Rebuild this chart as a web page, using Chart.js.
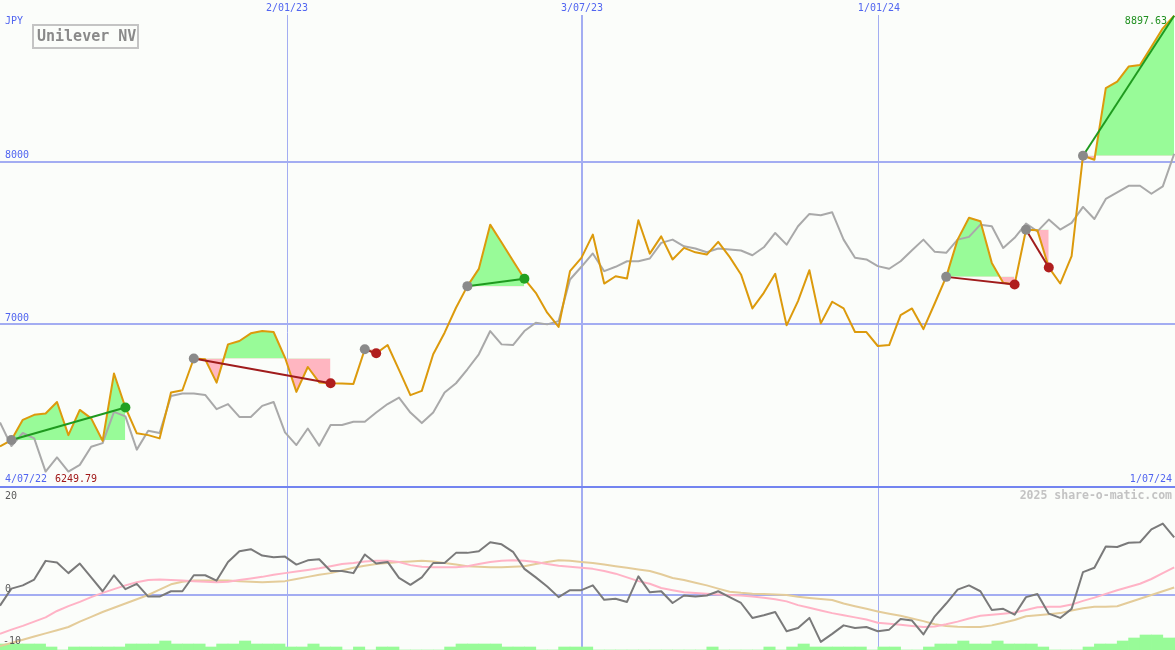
<!DOCTYPE html>
<html>
<head>
<meta charset="utf-8">
<title>Unilever NV</title>
<script src="https://cdn.jsdelivr.net/npm/chart.js@4.4.1/dist/chart.umd.min.js"></script>
<style>
  html, body { margin: 0; padding: 0; background: #fbfdfa; }
  #wrap { position: relative; width: 1175px; height: 650px; }
</style>
</head>
<body>
<div id="wrap"><canvas id="myChart"></canvas></div>
<script>
// weekly closes, 4/07/22 .. 1/07/24
var closes = [
  6249.79, 6289, 6413, 6444, 6452, 6523, 6319, 6474, 6422, 6284,
  6698, 6489, 6330, 6319, 6299, 6581, 6595, 6790, 6785, 6642,
  6877, 6898, 6945, 6959, 6953, 6796, 6585, 6738, 6643, 6638,
  6636, 6634, 6847, 6822, 6873, 6720, 6565, 6591, 6816, 6949,
  7102, 7235, 7341, 7613, 7503, 7391, 7280, 7194, 7072, 6984,
  7327, 7409, 7552, 7251, 7296, 7282, 7640, 7435, 7541, 7399,
  7470, 7443, 7429, 7507, 7415, 7307, 7098, 7194, 7311, 6994,
  7143, 7333, 7006, 7139, 7098, 6953, 6953, 6867, 6873, 7057,
  7098, 6971, 7130, 7292, 7521, 7655, 7634, 7378, 7256, 7245,
  7582, 7578, 7350, 7251, 7419, 8037, 8012, 8452, 8493, 8585,
  8595, 8707, 8820, 8897.63
];
// grey comparison line
var sector = [
  6397, 6252, 6332, 6299, 6095, 6182, 6095, 6136, 6248, 6270,
  6462, 6434, 6230, 6346, 6332, 6560, 6575, 6575, 6566, 6479,
  6510, 6431, 6431, 6499, 6523, 6336, 6258, 6360, 6254, 6381,
  6381, 6401, 6401, 6458, 6510, 6550, 6458, 6393, 6458, 6581,
  6638, 6724, 6816, 6959, 6877, 6873, 6959, 7010, 7000, 7020,
  7276, 7354, 7436, 7327, 7354, 7388, 7388, 7405, 7501, 7521,
  7480, 7466, 7443, 7466, 7460, 7454, 7425, 7474, 7562, 7490,
  7603, 7679, 7671, 7689, 7521, 7409, 7399, 7358, 7342, 7388,
  7456, 7521, 7446, 7440, 7521, 7538, 7613, 7603, 7470, 7532,
  7620, 7572, 7644, 7583, 7624, 7722, 7648, 7771, 7811, 7852,
  7852, 7803, 7848, 8049
];
// lower panel
var osc = [
  -2.0, 1.2, 1.8, 2.9, 6.4, 6.1, 4.1, 5.9, 3.3, 0.7,
  3.7, 1.1, 2.1, -0.3, -0.3, 0.7, 0.7, 3.7, 3.7, 2.7,
  6.2, 8.2, 8.6, 7.4, 7.1, 7.2, 5.7, 6.5, 6.7, 4.5,
  4.5, 4.1, 7.6, 5.9, 6.2, 3.2, 1.9, 3.3, 6.0, 6.0,
  7.9, 7.9, 8.2, 9.9, 9.5, 8.1, 4.9, 3.3, 1.6, -0.4,
  0.9, 0.9, 1.8, -0.9, -0.7, -1.3, 3.5, 0.5, 0.7, -1.5,
  -0.1, -0.3, -0.1, 0.7, -0.4, -1.5, -4.3, -3.8, -3.2, -6.8,
  -6.2, -4.3, -8.8, -7.3, -5.7, -6.2, -6.0, -6.8, -6.5, -4.5,
  -4.8, -7.4, -4.0, -1.6, 1.0, 1.8, 0.7, -2.8, -2.6, -3.7,
  -0.4, 0.2, -3.5, -4.3, -2.6, 4.3, 5.1, 9.1, 9.0, 9.8,
  9.9, 12.3, 13.4, 10.8
];
var oscFast = [
  -7.3, -6.5, -5.8, -5.0, -4.2, -3.0, -2.1, -1.3, -0.4, 0.4,
  1.1, 1.8, 2.4, 2.8, 2.9, 2.8, 2.7, 2.6, 2.5, 2.4,
  2.5, 2.8, 3.1, 3.4, 3.8, 4.1, 4.4, 4.7, 5.0, 5.4,
  5.8, 6.0, 6.3, 6.4, 6.4, 6.2, 5.6, 5.3, 5.2, 5.2,
  5.2, 5.4, 5.8, 6.2, 6.4, 6.5, 6.4, 6.2, 5.8, 5.5,
  5.3, 5.1, 4.9, 4.5, 4.0, 3.3, 2.6, 2.1, 1.3, 0.9,
  0.5, 0.35, 0.24, 0.1, 0.0, -0.1, -0.3, -0.5, -0.8, -1.2,
  -1.9, -2.4, -2.9, -3.4, -3.8, -4.2, -4.6, -5.2, -5.4, -5.6,
  -5.8, -6.0, -5.9, -5.5, -5.0, -4.4, -3.9, -3.7, -3.5, -3.3,
  -2.8, -2.3, -2.2, -2.2, -1.8, -1.1, -0.5, 0.2, 0.9, 1.5,
  2.1, 3.0, 4.1, 5.2
];
var oscSlow = [
  -9.6, -9.0, -8.4, -7.8, -7.2, -6.6, -6.0, -5.0, -4.1, -3.2,
  -2.4, -1.6, -0.8, 0.0, 1.0, 2.0, 2.5, 2.7, 2.7, 2.7,
  2.7, 2.6, 2.5, 2.4, 2.5, 2.6, 3.0, 3.4, 3.8, 4.1,
  4.6, 5.1, 5.5, 5.8, 6.0, 6.2, 6.3, 6.4, 6.3, 6.0,
  5.7, 5.4, 5.3, 5.2, 5.2, 5.3, 5.4, 5.8, 6.2, 6.5,
  6.4, 6.2, 6.0, 5.7, 5.4, 5.1, 4.8, 4.5, 3.9, 3.2,
  2.8, 2.3, 1.8, 1.2, 0.6, 0.4, 0.25, 0.2, 0.1, 0.0,
  -0.35, -0.55, -0.75, -0.95, -1.6, -2.1, -2.6, -3.1, -3.5, -3.9,
  -4.4, -4.9, -5.5, -5.8, -5.95, -6.0, -6.0, -5.7, -5.2, -4.7,
  -4.0, -3.8, -3.6, -3.4, -2.9, -2.5, -2.2, -2.2, -2.1, -1.4,
  -0.7, 0.0, 0.7, 1.4
];
var volume = [
  2, 2, 2, 2, 1, 0, 1, 1, 1, 1,
  1, 2, 2, 2, 3, 2, 2, 2, 1, 2,
  2, 3, 2, 2, 2, 1, 1, 2, 1, 1,
  0, 1, 0, 1, 1, 0, 0, 0, 0, 1,
  2, 2, 2, 2, 1, 1, 1, 0, 0, 1,
  1, 1, 0, 0, 0, 0, 0, 0, 0, 0,
  0, 0, 1, 0, 0, 0, 0, 1, 0, 1,
  2, 1, 1, 1, 1, 1, 0, 1, 1, 0,
  0, 1, 2, 2, 3, 2, 2, 3, 2, 2,
  2, 1, 0, 0, 0, 1, 2, 2, 3, 4,
  5, 5, 4, 4
];

// signals: start week, end week, direction
var sigFrom = [1, 17, 32, 41, 83, 90, 95];
var sigTo   = [11, 29, 33, 46, 89, 92, 103];
var sigUp   = [true, false, false, true, false, false, true];

var dateTicks  = [25.18, 51.05, 77.1];
var dateLabels = ["2/01/23", "3/07/23", "1/01/24"];
var priceTicks = [6000, 7000, 8000];
var startLabel = "4/07/22", endLabel = "1/07/24";

var green = "#98fb98", pink = "#ffb6c1";
var blueText = "#5165f0", gridBlue = "#a3adf2";
var mono = '"DejaVu Sans Mono", monospace';

function xy(arr, from) {
  return arr.map(function (v, k) { return { x: from + k, y: v }; });
}

var datasets = [];

sigFrom.forEach(function (s, n) {
  var e = sigTo[n];
  var open = n == sigFrom.length - 1;   // last one still running, no end dot
  datasets.push({
    yAxisID: "yP", order: 1,
    data: [{ x: s, y: closes[s] }, { x: e, y: closes[e] }],
    borderColor: sigUp[n] ? "#1f9a1f" : "#a01c1c",
    borderWidth: 2,
    pointRadius: [5, open ? 0 : 5],
    pointBackgroundColor: ["#8a8a8a", sigUp[n] ? "#22a022" : "#b01e1e"],
    pointBorderWidth: 0
  });
  datasets.push({
    yAxisID: "yP", order: 8,
    data: xy(closes.slice(s, e + 1), s),
    borderWidth: 0, pointRadius: 0,
    fill: { target: { value: closes[s] }, above: green, below: pink }
  });
});

datasets.push({ yAxisID: "yP", order: 2, data: xy(closes, 0), borderColor: "#dc9a0c", borderWidth: 2, pointRadius: 0 });
datasets.push({ yAxisID: "yP", order: 3, data: xy(sector, 0), borderColor: "#a9a9a9", borderWidth: 2, pointRadius: 0 });
datasets.push({ yAxisID: "yO", order: 4, data: xy(osc, 0), borderColor: "#7a7a7a", borderWidth: 2, pointRadius: 0 });
datasets.push({ yAxisID: "yO", order: 5, data: xy(oscFast, 0), borderColor: "#ffb3c6", borderWidth: 2, pointRadius: 0 });
datasets.push({ yAxisID: "yO", order: 6, data: xy(oscSlow, 0), borderColor: "#e4cc9a", borderWidth: 2, pointRadius: 0 });
datasets.push({
  type: "bar", yAxisID: "yV", order: 10,
  data: volume.map(function (v, i) { return { x: i + 0.5, y: v }; }),
  backgroundColor: green, borderWidth: 0,
  barPercentage: 1, categoryPercentage: 1
});

var textPlugin = {
  id: "texts",
  afterDraw: function (chart) {
    var ctx = chart.ctx, sx = chart.scales.x, sp = chart.scales.yP, so = chart.scales.yO;
    var right = chart.chartArea.right;
    ctx.save();
    ctx.textBaseline = "middle";

    // title box
    ctx.strokeStyle = "#c4c4c4";
    ctx.lineWidth = 2;
    ctx.strokeRect(33, 25, 105, 23);
    ctx.font = "bold 15px " + mono;
    ctx.fillStyle = "#8a8a8a";
    ctx.textAlign = "left";
    ctx.fillText("Unilever NV", 37, 37);

    ctx.font = "10px " + mono;
    ctx.fillStyle = blueText;
    ctx.textAlign = "center";
    dateLabels.forEach(function (t, k) { ctx.fillText(t, sx.getPixelForValue(dateTicks[k]), 8); });

    ctx.textAlign = "left";
    ctx.fillText("JPY", 5, 21);
    [7000, 8000].forEach(function (v) { ctx.fillText(String(v), 5, sp.getPixelForValue(v) - 6); });
    var yBase = sp.getPixelForValue(6000) - 8;
    ctx.fillText(startLabel, 5, yBase);
    ctx.fillStyle = "#a01818";
    ctx.fillText(Math.min.apply(null, closes).toFixed(2), 55, yBase);

    ctx.textAlign = "right";
    ctx.fillStyle = blueText;
    ctx.fillText(endLabel, right - 3, yBase);
    ctx.fillStyle = "#209020";
    ctx.fillText(Math.max.apply(null, closes).toFixed(2), right - 8, 21);

    // lower panel
    ctx.textAlign = "left";
    ctx.fillStyle = "#5a5a5a";
    ctx.fillText("20", 5, so.getPixelForValue(20) + 8);
    ctx.fillText("0", 5, so.getPixelForValue(0) - 6);
    ctx.fillText("-10", 3, so.getPixelForValue(-10) - 7);

    ctx.textAlign = "right";
    ctx.font = "bold 11.5px " + mono;
    ctx.fillStyle = "#c3c3c3";
    ctx.fillText("2025 share-o-matic.com", right - 3, so.getPixelForValue(20) + 8);
    ctx.restore();
  }
};

function noWidth(s) { s.width = 0; }

new Chart("myChart", {
  type: "line",
  data: { datasets: datasets },
  plugins: [textPlugin],
  options: {
    responsive: true,
    maintainAspectRatio: false,
    animation: false,
    events: [],
    layout: { autoPadding: false, padding: { top: 15, left: 0, right: 0, bottom: 0 } },
    plugins: { legend: { display: false }, tooltip: { enabled: false } },
    elements: { line: { tension: 0, borderJoinStyle: "round" } },
    scales: {
      x: {
        type: "linear", min: 0, max: 103.07, offset: false,
        ticks: { display: false }, border: { display: false },
        grid: {
          offset: false, drawTicks: false, color: gridBlue,
          lineWidth: function (c) { return c.index == 1 ? 2 : 1; }
        },
        afterBuildTicks: function (s) { s.ticks = dateTicks.map(function (v) { return { value: v }; }); },
        afterFit: function (s) { s.height = 0; }
      },
      yP: {
        position: "left", min: 4998, max: 8902,
        ticks: { display: false }, border: { display: false },
        grid: {
          drawTicks: false, lineWidth: 2,
          color: function (c) { return c.tick && c.tick.value == 6000 ? "#7384f0" : gridBlue; }
        },
        afterBuildTicks: function (s) { s.ticks = priceTicks.map(function (v) { return { value: v }; }); },
        afterFit: noWidth
      },
      yO: {
        position: "left", min: -10.32, max: 108.8,
        ticks: { display: false }, border: { display: false },
        grid: { drawTicks: false, lineWidth: 2, color: gridBlue },
        afterBuildTicks: function (s) { s.ticks = [{ value: 0 }]; },
        afterFit: noWidth
      },
      yV: { display: false, min: 0, max: 211.7 }
    }
  }
});
</script>
</body>
</html>
